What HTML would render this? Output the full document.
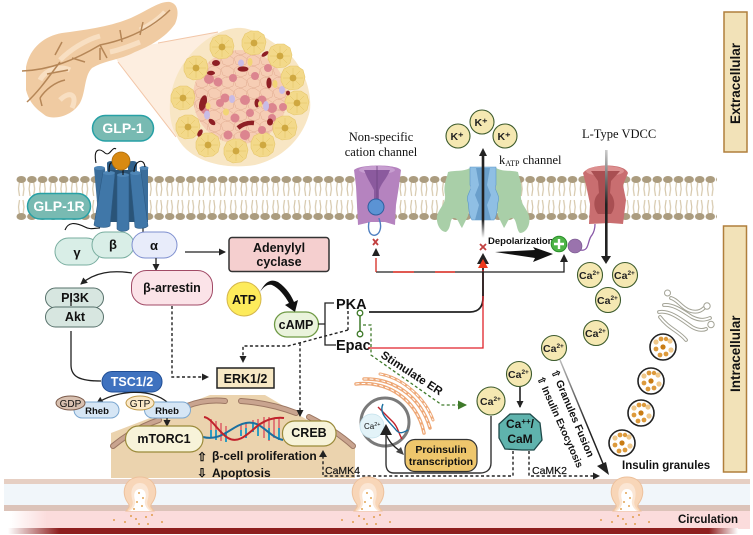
<!DOCTYPE html>
<html>
<head>
<meta charset="utf-8">
<style>
html,body{margin:0;padding:0;background:#fff;width:753px;height:535px;overflow:hidden}
svg{display:block}
text{font-family:"Liberation Sans",sans-serif;fill:#111}
.b{font-weight:bold}
.s{font-family:"Liberation Serif",serif;font-size:12.5px;fill:#111}
.m{text-anchor:middle}
.w{fill:#fff}
.ca{fill:#f5e8b2;stroke:#3c5a2c;stroke-width:1.1}
.cat{font-size:10.5px;font-weight:bold;fill:#222}
.sup{font-size:6.5px;font-weight:bold;fill:#222}
.d{fill:none;stroke:#222;stroke-width:1.4;stroke-dasharray:3 2.4}
.l{fill:none;stroke:#222;stroke-width:1.3}
.g{fill:#fff;stroke:#222;stroke-width:1.6}
</style>
</head>
<body>
<svg width="753" height="535" viewBox="0 0 753 535" xmlns="http://www.w3.org/2000/svg">
<defs>
<pattern id="lip" x="16" y="175" width="10.6" height="46" patternUnits="userSpaceOnUse">
<path d="M3.5 6L2.5 14L3.5 21M7 6L8 14L7 21M3.5 25L2.5 32L3.5 40M7 25L8 32L7 40" fill="none" stroke="#d6c8ac" stroke-width="1.2"/>
<ellipse cx="5.3" cy="4.5" rx="4.8" ry="3.5" fill="#ab9c7f"/>
<ellipse cx="5.3" cy="41.5" rx="4.8" ry="3.5" fill="#ab9c7f"/>
</pattern>
<pattern id="cells" width="13" height="11" patternUnits="userSpaceOnUse">
<path d="M0 3L4 0L9 1L13 4L12 9L7 11L2 9Z" fill="none" stroke="#e0a98e" stroke-width=".5"/>
</pattern>
<marker id="a" markerWidth="8" markerHeight="8" refX="6" refY="3.5" orient="auto" markerUnits="userSpaceOnUse"><path d="M0 0L7 3.5L0 7Z" fill="#222"/></marker>
<marker id="ag" markerWidth="12" markerHeight="12" refX="9" refY="4.5" orient="auto" markerUnits="userSpaceOnUse"><path d="M0 0L9 4.5L0 9Z" fill="#3f7a2a"/></marker>
<linearGradient id="fadeUp" x1="0" y1="0" x2="0" y2="1"><stop offset="0" stop-color="#222"/><stop offset="1" stop-color="#222" stop-opacity="0"/></linearGradient>
<linearGradient id="fadeA" x1="0" y1="0" x2="0" y2="1"><stop offset="0" stop-color="#ccc"/><stop offset=".5" stop-color="#222"/></linearGradient>
<linearGradient id="fadeG" gradientUnits="userSpaceOnUse" x1="560" y1="360" x2="607" y2="472"><stop offset="0" stop-color="#bbb"/><stop offset=".6" stop-color="#222"/></linearGradient>
<linearGradient id="red" x1="0" y1="0" x2="1" y2="0"><stop offset="0" stop-color="#fff"/><stop offset=".07" stop-color="#8e1f1f"/><stop offset=".96" stop-color="#8e1f1f"/><stop offset="1" stop-color="#fff"/></linearGradient>
<linearGradient id="pink" x1="0" y1="0" x2="1" y2="0"><stop offset="0" stop-color="#fff"/><stop offset=".05" stop-color="#fbdcdc"/><stop offset="1" stop-color="#fbdcdc"/></linearGradient>
<g id="ac"><path d="M-12 -3L-9 -9L-3 -12L4 -12L10 -8L12 -1L10 7L5 11L-3 12L-9 9L-12 3Z" fill="#f3d98a" stroke="#e6c76c" stroke-width=".6"/><path d="M0 -10V10M-10 0H10M-7 -7L7 7M7 -7L-7 7" stroke="#e3c261" stroke-width=".5"/><circle r="3.4" fill="#cfa840"/></g>
<g id="om"><path d="M-14 25C-12 22 -9 21 -12 17C-20 6 -15 -9 0 -9C15 -9 20 6 12 17C9 21 12 22 14 25Z" fill="#f8d6b8" stroke="#edc19c" stroke-width="1"/><path d="M-12 25C-8 22 -6 18 -8 13C-10 4 -7 -3 0 -3C7 -3 10 4 8 13C6 18 8 22 12 25Z" fill="#fbe6d4"/><path d="M-10 25C-6 22 -4 18 -5 14C-7 8 -5 3 0 3C5 3 7 8 5 14C4 18 6 22 10 25Z" fill="#fff"/><g fill="#d98a22"><circle cx="-1" cy="7" r=".9"/><circle cx="3" cy="12" r=".9"/><circle cx="-3" cy="16" r=".9"/><circle cx="2" cy="20" r=".9"/><circle cx="-6" cy="23" r=".9"/><circle cx="-9" cy="30" r=".9"/><circle cx="-4" cy="33" r=".9"/><circle cx="6" cy="31" r=".9"/><circle cx="12" cy="29" r=".9"/><circle cx="-1" cy="38" r=".9"/><circle cx="8" cy="38" r=".9"/><circle cx="-26" cy="34" r=".9"/><circle cx="22" cy="36" r=".9"/><circle cx="-15" cy="36" r=".9"/></g></g>
<g id="gr"><circle r="13" class="g"/><g fill="#f0c88a"><circle cx="-7" cy="-5" r="2.6"/><circle cx="7" cy="-6" r="2.6"/><circle cx="8" cy="3" r="2.6"/></g><g fill="#dd9a3c"><circle cx="-2" cy="-8" r="2.4"/><circle cx="3" cy="-8" r="2.2"/><circle cx="-7" cy="2" r="2.4"/><circle cx="3" cy="7" r="2.4"/><circle cx="-3" cy="8" r="2.4"/></g><circle r="2.6" fill="#c97c14"/></g>
</defs>

<!-- vessel -->
<rect x="4" y="479" width="746" height="5" fill="#e6cfc3"/>
<rect x="4" y="484" width="746" height="21" fill="#f1f6fa"/>
<rect x="4" y="505" width="746" height="6" fill="#dcc3b9"/>
<rect x="10" y="511" width="740" height="18" fill="url(#pink)"/>
<rect x="8" y="528" width="730" height="6" fill="url(#red)"/>

<!-- nucleus -->
<path d="M111 433L210 395H265L355 448V478H111Z" fill="#ebd3ae"/>
<g fill="none" stroke-linecap="round">
<path d="M113 446Q135 428 159 420M187 406Q205 399 225 401M241 401Q270 403 296 413M309 417Q335 430 353 446" stroke="#9c7763" stroke-width="6"/>
<path d="M113 446Q135 428 159 420M187 406Q205 399 225 401M241 401Q270 403 296 413M309 417Q335 430 353 446" stroke="#c9a48f" stroke-width="4"/>
</g>

<!-- zoom cone -->
<path d="M112 52L218 32L176 137L118 62Z" fill="#fdeee0"/>
<path d="M158 43L218 32M118 62L176 137" stroke="#f2c6a8" stroke-width="1" fill="none"/>
<!-- pancreas -->
<path d="M26 67C30 47 45 36 62 33C85 30 115 26 135 16C150 9 160 1 170 2C179 4 179 15 175 24C165 38 150 46 135 52C120 60 105 60 92 68C84 76 86 92 80 103C72 116 55 120 46 116C38 110 30 105 26 90Z" fill="#f0cba2"/>
<path d="M60 60C70 50 85 40 100 36M40 80C45 70 60 65 70 70M140 30C150 25 160 18 165 12M60 100C70 90 78 95 72 108M110 52C120 50 130 46 140 42" stroke="#f8dfc2" stroke-width="5" fill="none"/>
<path d="M22 71C50 70 75 60 100 45C125 40 150 30 170 10M27 102C40 90 50 75 60 62M40 98C45 90 55 82 65 80M55 55L62 42M72 58L85 62M100 45L107 58M122 42L120 30M140 35L143 22M100 48L100 60M40 98L42 106M47 74L68 70" fill="none" stroke="#b58657" stroke-width="1.5"/>

<!-- islet -->
<path d="M236 28C255 27 265 38 285 50C303 65 312 90 310 110C305 135 285 158 255 165C225 170 188 162 176 135C165 115 168 80 190 55C205 38 220 30 236 28Z" fill="#f8e6c4"/>
<circle cx="240" cy="97" r="47" fill="#f6cdb4"/>
<circle cx="240" cy="97" r="47" fill="url(#cells)"/>
<use href="#ac" x="222" y="47"/><use href="#ac" x="254" y="43"/><use href="#ac" x="280" y="56"/><use href="#ac" x="293" y="78"/><use href="#ac" x="297" y="103"/><use href="#ac" x="285" y="128"/><use href="#ac" x="263" y="145"/><use href="#ac" x="236" y="151"/><use href="#ac" x="208" y="145"/><use href="#ac" x="188" y="127"/><use href="#ac" x="183" y="98"/><use href="#ac" x="196" y="68"/>
<g fill="#dc858f">
<circle cx="209" cy="79" r="5"/><circle cx="218" cy="82" r="4.500"/><circle cx="233" cy="78" r="4"/><circle cx="255" cy="76" r="4"/><circle cx="268" cy="68" r="4"/><circle cx="225" cy="98" r="4.500"/><circle cx="245" cy="100" r="5"/><circle cx="262" cy="100" r="4.500"/><circle cx="272" cy="108" r="5"/><circle cx="220" cy="103" r="4"/><circle cx="235" cy="118" r="4.500"/><circle cx="250" cy="113" r="4"/><circle cx="245" cy="135" r="5"/><circle cx="272" cy="118" r="4"/><circle cx="283" cy="107" r="4"/><circle cx="205" cy="110" r="4"/><circle cx="228" cy="135" r="4.500"/><circle cx="262" cy="130" r="4"/>
</g>
<g fill="#8e1f24">
<ellipse cx="216" cy="63" rx="4" ry="3"/><ellipse cx="243" cy="69" rx="5.500" ry="2.600"/><ellipse cx="265" cy="54" rx="4" ry="2" transform="rotate(-35 265 54)"/><ellipse cx="211" cy="73" rx="4" ry="2.200"/><ellipse cx="269" cy="83" rx="2.600" ry="5.500"/><ellipse cx="288" cy="93" rx="2" ry="2.400"/><ellipse cx="203" cy="103" rx="3.600" ry="8" transform="rotate(15 203 103)"/><ellipse cx="212" cy="122" rx="4" ry="2.400" transform="rotate(40 212 122)"/><ellipse cx="200" cy="133" rx="2.200" ry="4" transform="rotate(30 200 133)"/><path d="M238 128Q245 122 254 123" stroke="#8e1f24" stroke-width="4.500" fill="none"/><ellipse cx="257" cy="103" rx="2.500" ry="4.500"/><ellipse cx="270" cy="122" rx="3" ry="3.500"/>
</g>
<g fill="#c9bce6"><ellipse cx="241" cy="63" rx="3" ry="3.500"/><ellipse cx="282" cy="90" rx="3" ry="4"/><ellipse cx="232" cy="99" rx="3" ry="4"/><ellipse cx="266" cy="106" rx="3" ry="5"/><ellipse cx="207" cy="115" rx="3" ry="4.500"/></g>
<g fill="#f2d576"><ellipse cx="250" cy="62" rx="2.500" ry="4"/><ellipse cx="275" cy="84" rx="2.500" ry="4"/><ellipse cx="208" cy="106" rx="2.500" ry="3.500"/><ellipse cx="226" cy="112" rx="3" ry="3.500"/><ellipse cx="260" cy="104" rx="2" ry="3"/></g>

<!-- membrane -->
<rect x="16" y="175" width="701" height="46" fill="url(#lip)"/>

<!-- receptor -->
<g fill="none" stroke="#111" stroke-width="1.100">
<path d="M96 163C93 148 100 148 105 153C110 157 112 146 116 149"/>
<path d="M65 230C68 222 75 222 85 227C90 230 95 228 100 228"/><path d="M143 228V234"/>
</g>
<g fill="#30618c">
<path d="M107 163H116L114 222H108Z"/><path d="M128 163H137L136 222H128Z"/>
<ellipse cx="111.500" cy="163" rx="4.500" ry="2"/><ellipse cx="132.500" cy="163" rx="4.500" ry="2"/>
<path d="M110 170H135V222H108Z" fill="#2a5478"/>
</g>
<g fill="#3a6d9b">
<path d="M94 168H105L108 222L99 224Z"/><path d="M140 168H148L148 222L141 224Z"/>
</g>
<g fill="#4077a8" stroke="#2d5b85" stroke-width=".6">
<path d="M103 172L115 174L110 226C107 228 97 228 94 225Z"/>
<path d="M130 174L141 172L148 226C145 229 137 229 135 227Z"/>
<path d="M117 175H129V229C127 232 119 232 117 229Z"/>
</g>
<g fill="#4f86b6">
<ellipse cx="109" cy="173" rx="6" ry="2"/><ellipse cx="135.500" cy="173" rx="5.500" ry="2"/><ellipse cx="123" cy="175" rx="6" ry="2"/>
<ellipse cx="99.500" cy="168" rx="5.500" ry="2"/><ellipse cx="144" cy="168" rx="4.500" ry="2"/>
</g>
<g fill="none" stroke="#111" stroke-width="1.100">
<path d="M109 172C109 163 111 161 114 164"/><path d="M134 172C134 161 144 157 145 167"/><path d="M123 170V175"/>
</g>
<circle cx="121" cy="161" r="9" fill="#d98a12" stroke="#a96a0c" stroke-width=".8"/>

<rect x="92.500" y="115.500" width="61" height="25.500" rx="12.700" fill="#78bab2" stroke="#27a0a5" stroke-width="1.500"/>
<text x="123" y="133" class="b m w" font-size="14">GLP-1</text>
<rect x="27.500" y="193.500" width="63" height="25.500" rx="12.700" fill="#78bab2" stroke="#27a0a5" stroke-width="1.500"/>
<text x="59" y="211" class="b m w" font-size="14">GLP-1R</text>

<!-- G proteins -->
<rect x="55" y="238" width="45" height="27" rx="13.500" fill="#d9eee7" stroke="#78ad9f" stroke-width="1"/>
<rect x="92" y="232" width="42" height="26" rx="13" fill="#d9eee7" stroke="#78ad9f" stroke-width="1"/>
<rect x="132" y="232" width="45" height="26" rx="13" fill="#e8ecfa" stroke="#7e8fcf" stroke-width="1"/>
<text x="77" y="257" class="b m" font-size="13" fill="#333">γ</text>
<text x="113" y="249" class="b m" font-size="13">β</text>
<text x="154" y="250" class="b m" font-size="13">α</text>

<path d="M185 252H225" class="l" marker-end="url(#a)"/>
<rect x="229" y="237.500" width="100" height="34" rx="3" fill="#f5cfcf" stroke="#333" stroke-width="1.500"/>
<text x="279" y="252" class="b m" font-size="12.500">Adenylyl</text>
<text x="279" y="266" class="b m" font-size="12.500">cyclase</text>

<path d="M156 258V270" class="l" marker-end="url(#a)"/>
<rect x="131.500" y="270.500" width="81" height="34.500" rx="15" fill="#fbe3e8" stroke="#a14a66" stroke-width="1"/>
<text x="172" y="292" class="b m" font-size="12.500" fill="#333">β-arrestin</text>

<path d="M132 273C112 270 95 272 81 284" class="l" marker-end="url(#a)"/>
<rect x="45.500" y="288" width="58" height="20" rx="10" fill="#d7e6e0" stroke="#56706a" stroke-width="1"/>
<rect x="45.500" y="307" width="58" height="20" rx="10" fill="#d7e6e0" stroke="#56706a" stroke-width="1"/>
<text x="75" y="302" class="b m" font-size="12.500" fill="#222">PI3K</text>
<text x="75" y="321" class="b m" font-size="12.500" fill="#222">Akt</text>
<path d="M71 296V306" class="l" stroke-width="1"/>
<path d="M71 331V365C71 377 80 381 101 381" class="l"/>
<rect x="102" y="371.500" width="60" height="20.500" rx="10" fill="#3f72bf" stroke="#1f4d94" stroke-width="1"/>
<text x="132" y="386" class="b m w" font-size="12.500">TSC1/2</text>

<path d="M167 402C150 388 118 390 97 403" class="l" stroke-width="1" marker-end="url(#a)"/>
<rect x="74" y="402" width="45" height="16" rx="8" fill="#d6e6f5" stroke="#7ba7d0" stroke-width="1"/>
<ellipse cx="70.500" cy="403" rx="14.500" ry="7" fill="#d8c0b0" stroke="#7a5a4a" stroke-width="1"/>
<text x="70.500" y="407" class="m" font-size="10">GDP</text>
<text x="97" y="414" class="b m" font-size="9.500" fill="#333">Rheb</text>
<rect x="144.500" y="402" width="46" height="16" rx="8" fill="#d6e6f5" stroke="#7ba7d0" stroke-width="1"/>
<ellipse cx="140" cy="403" rx="14" ry="7" fill="#fbe9c8" stroke="#c09a4a" stroke-width="1"/>
<text x="140" y="407" class="m" font-size="10">GTP</text>
<text x="167" y="414" class="b m" font-size="9.500" fill="#333">Rheb</text>
<path d="M167 418V426" class="l" stroke-width="1" marker-end="url(#a)"/>

<!-- DNA -->
<g>
<path d="M211 419V436M216 421V438M221 423V441M226 426V441M253 420V430M258 419V434M264 417V438M269 417V441M274 418V438M279 417V440M241 425V436M246 422V436" stroke="#e07a78" stroke-width="2"/>
<path d="M211 430V438M216 430V440M226 432V442M241 430V436M246 428V438M253 424V432M258 425V436M269 428V440M279 428V440" stroke="#2c9cc0" stroke-width="2"/>
<path d="M203 437C222 442 232 425 246 423C262 420 268 437 283 440" fill="none" stroke="#1a6fa0" stroke-width="2"/>
<path d="M204 417C212 418 218 432 228 438C240 445 250 431 260 424C268 419 276 417 284 418" fill="none" stroke="#c0222b" stroke-width="2"/>
</g>

<rect x="125.500" y="426" width="77.500" height="26" rx="13" fill="#f7f3d9" stroke="#9a8a3a" stroke-width="1.200"/>
<text x="164" y="443" class="b m" font-size="12.500" fill="#222">mTORC1</text>
<rect x="282.500" y="421" width="53.500" height="25" rx="12" fill="#f7f3d9" stroke="#9a8a3a" stroke-width="1.200"/>
<text x="309" y="437" class="b m" font-size="12.500" fill="#222">CREB</text>
<text x="197" y="461" class="b" font-size="12">⇧</text>
<text x="197" y="477" class="b" font-size="12">⇩</text>
<text x="212" y="460" class="b" font-size="12" fill="#222">β-cell proliferation</text>
<text x="212" y="477" class="b" font-size="12" fill="#222">Apoptosis</text>

<!-- ATP cAMP -->
<circle cx="244" cy="299" r="17" fill="#fdeb5b" stroke="#d4b64a" stroke-width="1"/>
<text x="244" y="304" class="b m" font-size="12.500">ATP</text>
<path d="M260 292C266 280 272 279 278 282C287 288 292 297 294 302L298 300L295 312L285 305L289 303C285 296 279 288 272 285C268 284 264 286 260 292Z" fill="#111"/>
<rect x="274.500" y="312" width="44" height="25" rx="12.500" fill="#eaf3dc" stroke="#6f9a45" stroke-width="1.300"/>
<text x="296" y="329" class="b m" font-size="12.500" fill="#222">cAMP</text>
<path d="M318 324H325M334 303H325V345H336" fill="none" stroke="#222" stroke-width="1.300"/>
<text x="336" y="309" class="b" font-size="14.500">PKA</text>
<text x="336" y="350" class="b" font-size="14.500">Epac</text>

<!-- dashed -->
<path d="M172 306V377H208" class="d" marker-end="url(#a)"/>
<path d="M348 311V330" class="d"/>
<path d="M348 330L288 346H243V362" class="d" marker-end="url(#a)"/>
<path d="M300 343V416" class="d" marker-end="url(#a)"/>
<rect x="217" y="368" width="57" height="20" fill="#f7e8c4" stroke="#222" stroke-width="1.500"/>
<text x="245.500" y="383" class="b m" font-size="12.500" fill="#222">ERK1/2</text>

<!-- green -->
<path d="M363 325H371V355L442 405H467" fill="none" stroke="#3f7a2a" stroke-width="1.300" stroke-dasharray="3 2.400" marker-end="url(#ag)"/>
<path d="M360 316V331" stroke="#3f7a2a" stroke-width="1.500"/>
<circle cx="360" cy="313" r="2.800" fill="#fff" stroke="#3f7a2a" stroke-width="1.300"/>
<circle cx="360" cy="334" r="2.800" fill="#fff" stroke="#3f7a2a" stroke-width="1.300"/>

<!-- PKA/Epac lines -->
<path d="M369 312H470C480 312 483 305 483 298V266" fill="none" stroke="#222" stroke-width="1.800"/>
<path d="M368 348H483V270" fill="none" stroke="#e0222a" stroke-width="1.300"/>
<path d="M376 272H564V258" fill="none" stroke="#222" stroke-width="1.300"/>
<path d="M376 258V272" stroke="#d62a20" stroke-width="1.300"/>
<path d="M393 272H414M435 272H455" stroke="#e8352a" stroke-width="1.500"/>
<path d="M376 248L380 256H372Z" fill="#222"/>
<path d="M564 254L568 262H560Z" fill="#222"/>
<path d="M483 253L489 264H477Z" fill="#222"/>
<path d="M483 259L488 268H478Z" fill="#ec3a1c"/>
<path d="M483 272V296" stroke="#222" stroke-width="1.500"/>

<!-- non-specific channel -->
<path d="M354 170C360 164 396 164 401 170L399 186L396 205L395 225L385 222L371 222L358 225L357 205L356 186Z" fill="#b583bf"/>
<ellipse cx="377" cy="170" rx="18" ry="4" fill="#c79ed0"/>
<path d="M364 170H390C386 180 382 182 379 190V205H374V190C370 182 368 180 364 170Z" fill="#8b5a9e"/>
<path d="M377 166V205" stroke="#6d4480" stroke-width=".8"/>
<circle cx="376" cy="207" r="8" fill="#5b93d4" stroke="#2f5f9f" stroke-width="1"/>
<path d="M369 222C366 238 378 238 380 230C382 224 379 220 379 218" fill="none" stroke="#4f7fc0" stroke-width="1.400"/>
<path d="M373 239L378 245M378 239L373 245" stroke="#c24040" stroke-width="1.800"/>

<!-- KATP channel -->
<path d="M448 172C455 170 463 172 470 168V205L468 216L462 228C459 224 458 218 454 218C449 218 452 228 446 232C441 232 436 225 437 216C439 208 446 204 445 195C443 185 447 178 448 172Z" fill="#a9cfa8"/>
<path d="M518 172C511 170 503 172 496 168V205L498 216L504 228C507 224 508 218 512 218C517 218 516 230 520 233C526 233 531 225 529 216C527 208 520 204 521 195C523 185 519 178 518 172Z" fill="#a9cfa8"/>
<path d="M470 167H483V220H472C468 215 469 205 468 202C465 195 473 190 470 185Z" fill="#8fbfe4" stroke="#5c97c8" stroke-width=".6"/>
<path d="M496 167H483V220H494C498 215 497 205 498 202C501 195 493 190 496 185Z" fill="#8fbfe4" stroke="#5c97c8" stroke-width=".6"/>
<path d="M476 168H490L487 185L491 195L487 205H479L475 195L479 185Z" fill="#6a9fcb"/>
<path d="M479 205H487L491 220H475Z" fill="#6a9fcb"/>
<rect x="481.700" y="154" width="2.600" height="66" fill="#222"/>
<rect x="481.700" y="220" width="2.600" height="18" fill="url(#fadeUp)"/>
<path d="M483 148L487 156H479Z" fill="#222"/>
<path d="M480 244L486 250M486 244L480 250" stroke="#c24040" stroke-width="1.800"/>

<circle cx="458" cy="136" r="12" class="ca"/><circle cx="482" cy="122" r="12" class="ca"/><circle cx="505" cy="136" r="12" class="ca"/>
<text x="457" y="140" class="cat m">K⁺</text><text x="481" y="126" class="cat m">K⁺</text><text x="504" y="140" class="cat m">K⁺</text>

<text x="381" y="141" class="s m">Non-specific</text>
<text x="381" y="156" class="s m">cation channel</text>
<text x="499" y="164" class="s">k<tspan font-size="8" dy="2">ATP</tspan><tspan dy="-2"> channel</tspan></text>
<text x="582" y="138" class="s">L-Type VDCC</text>

<text x="488" y="244" class="b" font-size="9.500">Depolarization</text>
<path d="M495 252L535 250L533 247L553 254L533 262L535 258Z" fill="#111"/>
<circle cx="559" cy="244" r="7.800" fill="#4eb547" stroke="#2a8f2a" stroke-width="1"/>
<path d="M559 239V249M554 244H564" stroke="#fff" stroke-width="2.400"/>
<path d="M580 250C590 252 587 240 592 235C594 232 595 228 595 224" fill="none" stroke="#8a5aa8" stroke-width="1.300"/>
<circle cx="575" cy="246" r="7" fill="#9a73ad" stroke="#6d4c85" stroke-width=".6"/>

<!-- L-type -->
<path d="M583 173C590 163 625 163 628 173L623 185L626 200L623 224L610 223L589 224L590 204L586 185Z" fill="#c96e70"/>
<ellipse cx="605" cy="171" rx="19" ry="5" fill="#dc8f8f"/>
<path d="M591 171H620L611 181L610 193C615 198 616 208 611 214H598C593 208 593 198 599 193L598 181Z" fill="#a94f52"/>
<rect x="605" y="150" width="2.600" height="108" fill="url(#fadeA)"/>
<path d="M606 264L601 256H611Z" fill="#222"/>

<!-- Ca -->
<circle cx="590" cy="275" r="12.500" class="ca"/><circle cx="625" cy="275" r="12.500" class="ca"/><circle cx="608" cy="300" r="12.500" class="ca"/><circle cx="596" cy="333" r="12.500" class="ca"/><circle cx="554" cy="348" r="12.500" class="ca"/><circle cx="519" cy="374" r="12.500" class="ca"/><circle cx="491" cy="401" r="14" class="ca"/>
<text x="579" y="279" class="cat">Ca<tspan class="sup" dy="-4">2+</tspan></text>
<text x="614" y="279" class="cat">Ca<tspan class="sup" dy="-4">2+</tspan></text>
<text x="597" y="304" class="cat">Ca<tspan class="sup" dy="-4">2+</tspan></text>
<text x="585" y="337" class="cat">Ca<tspan class="sup" dy="-4">2+</tspan></text>
<text x="543" y="352" class="cat">Ca<tspan class="sup" dy="-4">2+</tspan></text>
<text x="508" y="378" class="cat">Ca<tspan class="sup" dy="-4">2+</tspan></text>
<text x="480" y="405" class="cat">Ca<tspan class="sup" dy="-4">2+</tspan></text>

<!-- Ca to CaM -->
<path d="M520 387V407" fill="none" stroke="#222" stroke-width="1.600" marker-end="url(#a)"/>
<path d="M510 414L530 414L540 423L542 440L534 450L522 450L505 449L499 438L499 424Z" fill="#5fb3ad" stroke="#1f4a4a" stroke-width="1.300"/>
<text x="520" y="428" class="b m" font-size="12" fill="#123">Ca<tspan font-size="8" dy="-4">++</tspan><tspan dy="4">/</tspan></text>
<text x="520" y="443" class="b m" font-size="12" fill="#123">CaM</text>

<path d="M560 360L604 466" fill="none" stroke="url(#fadeG)" stroke-width="1.500"/>
<path d="M609 475L597 466L606 462Z" fill="#222"/>
<text transform="translate(551 371) rotate(67)" class="b" font-size="10.500" fill="#222">⇧ Granules Fusion</text>
<text transform="translate(537 378) rotate(66)" class="b" font-size="10" fill="#222">⇧ Insulin Exocytosis</text>
<text transform="translate(380 357) rotate(33)" class="b" font-size="11.500">Stimulate ER</text>

<!-- dashed CaM -->
<path d="M513 451V476H323V455" class="d"/>
<path d="M323 450L327 457H319Z" fill="#222"/>
<path d="M529 451V476H597" class="d"/>
<path d="M600 476L593 472.500V479.500Z" fill="#222"/>
<text x="325" y="474" font-size="10.500" style="stroke:#222;stroke-width:.2">CaMK4</text>
<text x="532" y="474" font-size="10.500" style="stroke:#222;stroke-width:.2">CaMK2</text>

<!-- ER + nucleus -->
<g fill="none" stroke-linecap="round">
<path d="M356 384C385 380 417 398 424 433" stroke="#eea877" stroke-width="3.500"/>
<path d="M364 379C392 378 420 395 430 428" stroke="#eea877" stroke-width="3.500"/>
<path d="M380 374C403 378 425 398 433 420" stroke="#eea877" stroke-width="3"/>
<path d="M356 384C385 380 417 398 424 433M364 379C392 378 420 395 430 428M380 374C403 378 425 398 433 420" stroke="#fff" stroke-width="1" stroke-dasharray="3 3"/>
</g>
<circle cx="385" cy="422" r="24" fill="#fff" stroke="#7a7a7a" stroke-width="3"/>
<circle cx="372" cy="426" r="12" fill="#e3f3f8" stroke="#c4e2ec" stroke-width=".8"/>
<text x="364" y="429" font-size="8">Ca<tspan font-size="5.500" dy="-3">2+</tspan></text>
<path d="M378 407C385 414 388 417 393 422C398 427 398 432 402 439" fill="none" stroke="#c0222b" stroke-width="1.400"/>
<path d="M383 404C378 414 390 422 396 430C400 435 404 432 408 430" fill="none" stroke="#1a6fa0" stroke-width="1.400"/>
<path d="M386 434C389 442 395 448 402 452" class="l"/>
<path d="M404 455L396 452L401 447Z" fill="#444"/>
<path d="M491 416V463C491 470 486 473 480 473H394C389 473 386 470 386 464V430" fill="none" stroke="#333" stroke-width="1.400"/>
<path d="M386 424L392 435H380Z" fill="#222"/>
<rect x="405" y="439.500" width="72" height="32" rx="10" fill="#eec66c" stroke="#333" stroke-width="1.200"/>
<text x="441" y="453" class="b m" font-size="10.500" fill="#222">Proinsulin</text>
<text x="441" y="465" class="b m" font-size="10.500" fill="#222">transcription</text>

<!-- golgi -->
<g fill="none" stroke-linecap="round">
<g stroke="#a3a396" stroke-width="3.800">
<path d="M671 298C678 300 680 306 688 310C695 313 700 312 704 308"/>
<path d="M664 305C674 304 684 312 692 317C700 321 705 320 710 318"/>
<path d="M659 312C670 310 682 320 692 327C699 331 704 330 706 329"/>
<path d="M660 317C668 328 680 332 686 340"/>
</g>
<g stroke="#fff" stroke-width="1.800">
<path d="M671 298C678 300 680 306 688 310C695 313 700 312 704 308"/>
<path d="M664 305C674 304 684 312 692 317C700 321 705 320 710 318"/>
<path d="M659 312C670 310 682 320 692 327C699 331 704 330 706 329"/>
<path d="M660 317C668 328 680 332 686 340"/>
</g>
</g>
<circle cx="667.500" cy="293" r="3" fill="#fff" stroke="#a3a396" stroke-width="1"/><circle cx="707" cy="306" r="3.200" fill="#fff" stroke="#a3a396" stroke-width="1"/><circle cx="711" cy="324.500" r="3.200" fill="#fff" stroke="#a3a396" stroke-width="1"/>

<use href="#gr" x="663" y="347"/><use href="#gr" x="651" y="381"/><use href="#gr" x="641" y="413"/><use href="#gr" x="622" y="443"/>
<text x="622" y="469" class="b" font-size="11.500" fill="#222">Insulin granules</text>
<text x="678" y="523" class="b" font-size="11.500" fill="#222">Circulation</text>

<use href="#om" x="140" y="486"/><use href="#om" x="368" y="486"/><use href="#om" x="627" y="486"/>

<!-- side panels -->
<rect x="724" y="12" width="23" height="140" fill="#f2e2b8" stroke="#b07f3c" stroke-width="1.500"/>
<text transform="translate(740 124) rotate(-90)" class="b" font-size="13.500">Extracellular</text>
<rect x="723.500" y="226" width="23" height="246" fill="#f2e2b8" stroke="#b07f3c" stroke-width="1.500"/>
<text transform="translate(740 392) rotate(-90)" class="b" font-size="13.500">Intracellular</text>
</svg>
</body>
</html>
